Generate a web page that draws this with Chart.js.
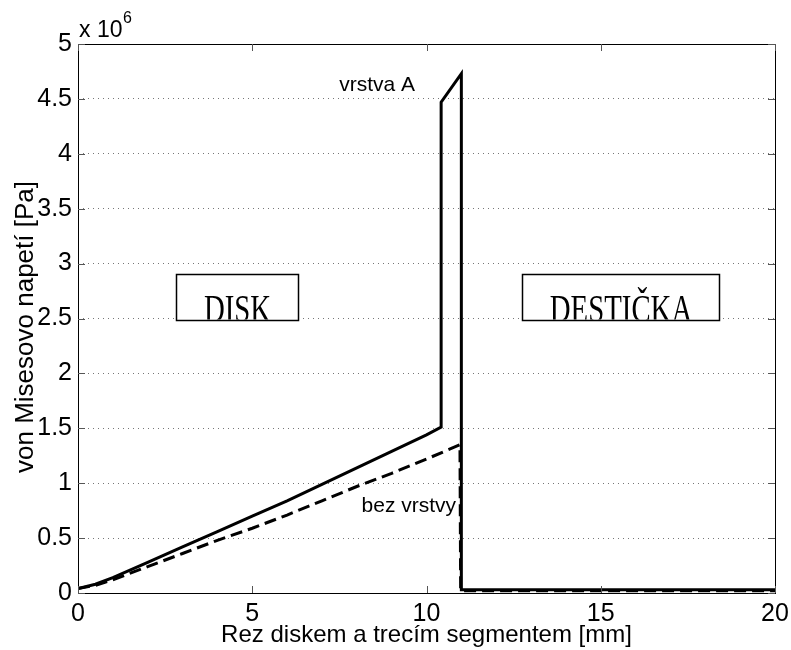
<!DOCTYPE html>
<html>
<head>
<meta charset="utf-8">
<script src="https://cdn.jsdelivr.net/npm/chart.js@4/dist/chart.umd.min.js"></script>
<style>
  body { margin: 0; background: #fff; }
</style>
</head>
<body>
<canvas id="chart" width="791" height="650"></canvas>
<script>
// x: position along the cut [mm], y: von Mises stress in units of 10^6 Pa
const xVrstva = [0, 0.5, 1, 2, 3, 4, 5, 6, 7, 8, 9, 10, 10.42, 10.42, 11.0, 11.0, 20];
const yVrstva = [0.04, 0.08, 0.14, 0.28, 0.42, 0.56, 0.70, 0.84, 0.99, 1.14, 1.29, 1.44, 1.51, 4.47, 4.73, 0.03, 0.03];

const xBez = [0, 0.5, 1, 2, 3, 4, 5, 6, 7, 8, 9, 10, 10.96, 10.98, 20];
const yBez = [0.04, 0.07, 0.12, 0.24, 0.36, 0.48, 0.59, 0.71, 0.84, 0.97, 1.09, 1.22, 1.35, 0.02, 0.02];

const xTicks = [0, 5, 10, 15, 20];
const yTicks = [0, 0.5, 1, 1.5, 2, 2.5, 3, 3.5, 4, 4.5, 5];

const sans = '"Liberation Sans", Arial, Helvetica, sans-serif';
const serif = '"Liberation Serif", "Times New Roman", serif';

function pts(xs, ys) {
  return xs.map((x, i) => ({ x: x, y: ys[i] }));
}

// frame, inward ticks, exponent label, y title, text labels and boxes
const extras = {
  id: 'extras',
  afterDraw(chart) {
    const { ctx, chartArea: a, scales: { x, y } } = chart;
    ctx.save();
    ctx.strokeStyle = '#000';
    ctx.lineWidth = 1;
    ctx.strokeRect(a.left + 0.5, a.top + 0.5, a.right - a.left, a.bottom - a.top);

    ctx.strokeStyle = '#555';
    ctx.beginPath();
    xTicks.forEach(v => {
      const px = Math.round(x.getPixelForValue(v)) + 0.5;
      ctx.moveTo(px, a.bottom); ctx.lineTo(px, a.bottom - 7);
      ctx.moveTo(px, a.top); ctx.lineTo(px, a.top + 7);
    });
    yTicks.forEach(v => {
      const py = Math.round(y.getPixelForValue(v)) + 0.5;
      ctx.moveTo(a.left, py); ctx.lineTo(a.left + 7, py);
      ctx.moveTo(a.right, py); ctx.lineTo(a.right - 7, py);
    });
    ctx.stroke();

    ctx.fillStyle = '#000';
    ctx.textBaseline = 'alphabetic';
    ctx.font = '23px ' + sans;
    ctx.fillText('x 10', a.left + 1, a.top - 7);
    ctx.font = '16px ' + sans;
    ctx.fillText('6', a.left + 45, a.top - 21);

    // y axis title
    ctx.save();
    ctx.font = '26px ' + sans;
    ctx.textAlign = 'center';
    ctx.translate(33, 327);
    ctx.rotate(-Math.PI / 2);
    ctx.fillText('von Misesovo napetí [Pa]', 0, 0);
    ctx.restore();

    ctx.font = '21px ' + sans;
    ctx.textAlign = 'right';
    ctx.fillText('vrstva A', x.getPixelForValue(9.67), y.getPixelForValue(4.57));
    ctx.fillText('bez vrstvy', x.getPixelForValue(10.85), y.getPixelForValue(0.74));

    [['DISK', 2.81, 6.31], ['DESTIČKA', 12.74, 18.39]].forEach(([label, x0, x1]) => {
      const l = Math.round(x.getPixelForValue(x0)) + 0.5;
      const r = Math.round(x.getPixelForValue(x1)) + 0.5;
      const t = Math.round(y.getPixelForValue(2.905)) + 0.5;
      const b = Math.round(y.getPixelForValue(2.486)) + 0.5;
      ctx.fillStyle = '#fff';
      ctx.fillRect(l, t, r - l, b - t);
      ctx.save();
      ctx.beginPath();
      ctx.rect(l, t, r - l, b - t - 1);
      ctx.clip();
      ctx.fillStyle = '#000';
      ctx.textAlign = 'center';
      ctx.font = '40px ' + serif;
      ctx.translate((l + r) / 2, b + 1);
      ctx.scale(0.72, 1);
      ctx.fillText(label, 0, 0);
      ctx.restore();
      ctx.lineWidth = 1.5;
      ctx.strokeStyle = '#000';
      ctx.strokeRect(l, t, r - l, b - t);
    });
    ctx.restore();
  }
};

new Chart(document.getElementById('chart'), {
  type: 'scatter',
  data: {
    datasets: [{
      label: 'vrstva A',
      data: pts(xVrstva, yVrstva),
      showLine: true,
      borderColor: '#000',
      borderWidth: 3,
      pointRadius: 0,
      tension: 0
    }, {
      label: 'bez vrstvy',
      data: pts(xBez, yBez),
      showLine: true,
      borderColor: '#000',
      borderWidth: 3,
      borderDash: [12, 6],
      pointRadius: 0,
      tension: 0
    }]
  },
  options: {
    responsive: false,
    animation: false,
    layout: { padding: { top: 44, right: 16, left: 0, bottom: 0 } },
    plugins: { legend: { display: false }, tooltip: { enabled: false } },
    scales: {
      x: {
        type: 'linear',
        min: 0, max: 20,
        afterBuildTicks: s => { s.ticks = xTicks.map(v => ({ value: v })); },
        afterFit: s => { s.height = 57; s.paddingRight = 0; s.paddingLeft = 0; },
        grid: { display: false, drawTicks: false },
        border: { display: false },
        ticks: { color: '#000', font: { size: 25, family: sans }, padding: 6, maxRotation: 0 },
        title: { display: true, text: 'Rez diskem a trecím segmentem [mm]', color: '#000', font: { size: 24, family: sans }, padding: { top: 0, bottom: 0 } }
      },
      y: {
        type: 'linear',
        min: 0, max: 5,
        afterBuildTicks: s => { s.ticks = yTicks.map(v => ({ value: v })); },
        afterFit: s => { s.width = 78; s.paddingTop = 0; s.paddingBottom = 0; },
        grid: {
          drawTicks: false,
          color: c => (c.tick.value === 0 || c.tick.value === 5) ? 'rgba(0,0,0,0)' : '#777',
          lineWidth: 1
        },
        border: { display: false, dash: [1, 4] },
        ticks: { color: '#000', font: { size: 25, family: sans }, padding: 6, callback: v => String(v) },
        title: { display: false }
      }
    }
  },
  plugins: [extras]
});
</script>
</body>
</html>
